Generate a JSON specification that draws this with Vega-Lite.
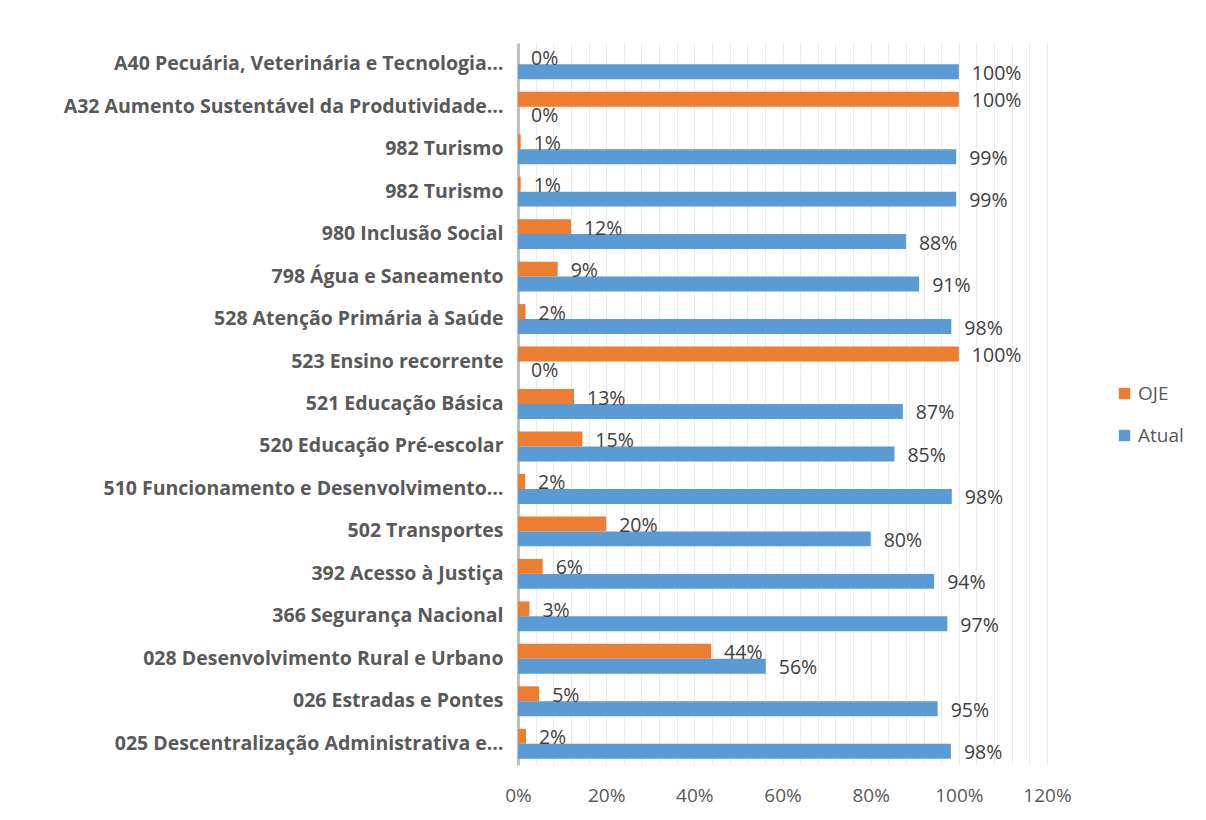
{
  "$schema": "https://vega.github.io/schema/vega-lite/v6.json",
  "width": 529,
  "height": 722,
  "autosize": {"type": "none"},
  "padding": {"left": 518, "top": 43, "right": 159, "bottom": 55},
  "background": "white",
  "config": {
    "view": {"stroke": null},
    "font": "Open Sans"
  },
  "data": {
    "values": [
      {"id": 1, "categoria": "A40 Pecuária, Veterinária e Tecnologia…", "serie": "OJE", "valor": 0},
      {"id": 1, "categoria": "A40 Pecuária, Veterinária e Tecnologia…", "serie": "Atual", "valor": 1.0},
      {"id": 2, "categoria": "A32 Aumento Sustentável da Produtividade…", "serie": "OJE", "valor": 1.0},
      {"id": 2, "categoria": "A32 Aumento Sustentável da Produtividade…", "serie": "Atual", "valor": 0},
      {"id": 3, "categoria": "982 Turismo", "serie": "OJE", "valor": 0.006},
      {"id": 3, "categoria": "982 Turismo", "serie": "Atual", "valor": 0.994},
      {"id": 4, "categoria": "982 Turismo", "serie": "OJE", "valor": 0.006},
      {"id": 4, "categoria": "982 Turismo", "serie": "Atual", "valor": 0.994},
      {"id": 5, "categoria": "980 Inclusão Social", "serie": "OJE", "valor": 0.12},
      {"id": 5, "categoria": "980 Inclusão Social", "serie": "Atual", "valor": 0.88},
      {"id": 6, "categoria": "798 Água e Saneamento", "serie": "OJE", "valor": 0.09},
      {"id": 6, "categoria": "798 Água e Saneamento", "serie": "Atual", "valor": 0.91},
      {"id": 7, "categoria": "528 Atenção Primária à Saúde", "serie": "OJE", "valor": 0.017},
      {"id": 7, "categoria": "528 Atenção Primária à Saúde", "serie": "Atual", "valor": 0.983},
      {"id": 8, "categoria": "523 Ensino recorrente", "serie": "OJE", "valor": 1.0},
      {"id": 8, "categoria": "523 Ensino recorrente", "serie": "Atual", "valor": 0},
      {"id": 9, "categoria": "521 Educação Básica", "serie": "OJE", "valor": 0.127},
      {"id": 9, "categoria": "521 Educação Básica", "serie": "Atual", "valor": 0.873},
      {"id": 10, "categoria": "520 Educação Pré-escolar", "serie": "OJE", "valor": 0.146},
      {"id": 10, "categoria": "520 Educação Pré-escolar", "serie": "Atual", "valor": 0.854},
      {"id": 11, "categoria": "510 Funcionamento e Desenvolvimento…", "serie": "OJE", "valor": 0.016},
      {"id": 11, "categoria": "510 Funcionamento e Desenvolvimento…", "serie": "Atual", "valor": 0.984},
      {"id": 12, "categoria": "502 Transportes", "serie": "OJE", "valor": 0.2},
      {"id": 12, "categoria": "502 Transportes", "serie": "Atual", "valor": 0.8},
      {"id": 13, "categoria": "392 Acesso à Justiça", "serie": "OJE", "valor": 0.056},
      {"id": 13, "categoria": "392 Acesso à Justiça", "serie": "Atual", "valor": 0.944},
      {"id": 14, "categoria": "366 Segurança Nacional", "serie": "OJE", "valor": 0.026},
      {"id": 14, "categoria": "366 Segurança Nacional", "serie": "Atual", "valor": 0.974},
      {"id": 15, "categoria": "028 Desenvolvimento Rural e Urbano", "serie": "OJE", "valor": 0.438},
      {"id": 15, "categoria": "028 Desenvolvimento Rural e Urbano", "serie": "Atual", "valor": 0.562},
      {"id": 16, "categoria": "026 Estradas e Pontes", "serie": "OJE", "valor": 0.048},
      {"id": 16, "categoria": "026 Estradas e Pontes", "serie": "Atual", "valor": 0.952},
      {"id": 17, "categoria": "025 Descentralização Administrativa e…", "serie": "OJE", "valor": 0.018},
      {"id": 17, "categoria": "025 Descentralização Administrativa e…", "serie": "Atual", "valor": 0.982}
    ]
  },
  "encoding": {
    "y": {
      "field": "id",
      "type": "ordinal",
      "sort": "ascending",
      "scale": {"paddingInner": 0, "paddingOuter": 0},
      "axis": {
        "title": null,
        "ticks": false,
        "domain": true,
        "domainColor": "#bfbfbf",
        "domainWidth": 3,
        "labelExpr": "['','A40 Pecuária, Veterinária e Tecnologia…','A32 Aumento Sustentável da Produtividade…','982 Turismo','982 Turismo','980 Inclusão Social','798 Água e Saneamento','528 Atenção Primária à Saúde','523 Ensino recorrente','521 Educação Básica','520 Educação Pré-escolar','510 Funcionamento e Desenvolvimento…','502 Transportes','392 Acesso à Justiça','366 Segurança Nacional','028 Desenvolvimento Rural e Urbano','026 Estradas e Pontes','025 Descentralização Administrativa e…'][datum.value]",
        "labelFont": "Open Sans",
        "labelFontWeight": "bold",
        "labelFontSize": 19.5,
        "labelColor": "#595959",
        "labelPadding": 15,
        "labelLimit": 520
      }
    },
    "yOffset": {
      "field": "serie",
      "type": "nominal",
      "sort": ["OJE", "Atual"],
      "scale": {"paddingInner": 0, "paddingOuter": 0.42}
    },
    "x": {
      "field": "valor",
      "type": "quantitative",
      "scale": {"domain": [0, 1.2], "nice": false},
      "axis": {
        "title": null,
        "values": [0, 0.04, 0.08, 0.12, 0.16, 0.2, 0.24, 0.28, 0.32, 0.36, 0.4, 0.44, 0.48, 0.52, 0.56, 0.6, 0.64, 0.68, 0.72, 0.76, 0.8, 0.84, 0.88, 0.92, 0.96, 1.0, 1.04, 1.08, 1.12, 1.16, 1.2],
        "labelExpr": "round(datum.value*100) % 20 == 0 ? format(datum.value, '.0%') : ''",
        "domain": false,
        "ticks": false,
        "grid": true,
        "gridColor": "#ebebeb",
        "gridWidth": 1,
        "labelFont": "Open Sans",
        "labelFontSize": 19,
        "labelColor": "#595959",
        "labelPadding": 21,
        "labelFlush": false
      }
    }
  },
  "layer": [
    {
      "mark": {"type": "bar"},
      "encoding": {
        "color": {
          "field": "serie",
          "type": "nominal",
          "scale": {"domain": ["OJE", "Atual"], "range": ["#ED7D31", "#5B9BD5"]},
          "legend": {
            "title": null,
            "orient": "none",
            "legendX": 597,
            "legendY": 341,
            "symbolType": "square",
            "symbolSize": 130,
            "symbolStrokeWidth": 0,
            "labelFont": "Open Sans",
            "labelFontSize": 19,
            "labelColor": "#595959",
            "rowPadding": 22,
            "labelOffset": 4
          }
        }
      }
    },
    {
      "mark": {"type": "text", "align": "left", "baseline": "middle", "dx": 13, "dy": 2, "fontSize": 19.5, "font": "Open Sans", "color": "#404040"},
      "encoding": {
        "text": {"field": "valor", "type": "quantitative", "format": ".0%"}
      }
    }
  ]
}
